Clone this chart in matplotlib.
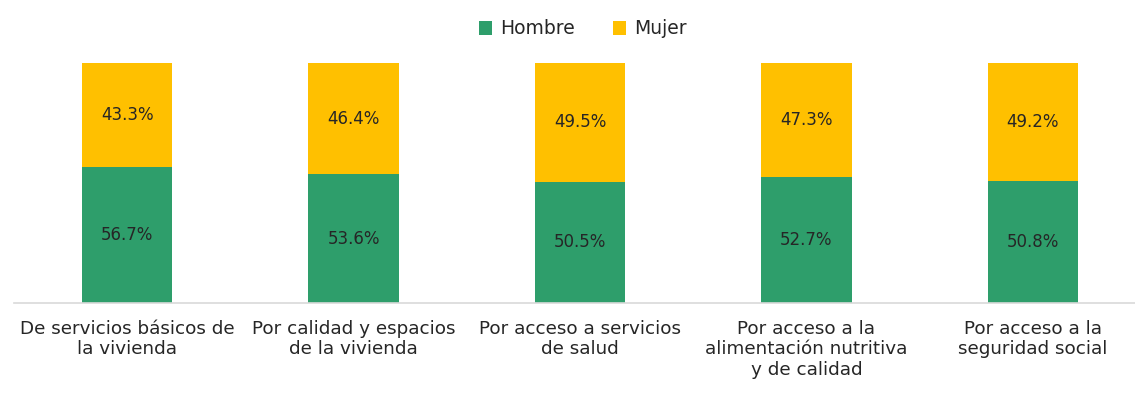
import matplotlib
matplotlib.use("Agg")
import matplotlib.pyplot as plt
import numpy as np

categories = ["De servicios básicos de\nla vivienda",
              "Por calidad y espacios\nde la vivienda",
              "Por acceso a servicios\nde salud",
              "Por acceso a la\nalimentación nutritiva\ny de calidad",
              "Por acceso a la\nseguridad social"]
hombre = [56.7, 53.6, 50.5, 52.7, 50.8]
mujer = [43.3, 46.4, 49.5, 47.3, 49.2]
series_names = ["Hombre", "Mujer"]

green = "#2E9E6B"
yellow = "#FFC000"
plt.rcParams['font.family'] = ['DejaVu Sans']

W, H = 1135, 400
fig = plt.figure(figsize=(W / 100, H / 100), dpi=100)
ax = fig.add_axes([14 / W, 1 - 303 / H, 1132 / W, 240 / H])
x = np.arange(len(categories))
w = 0.40
b1 = ax.bar(x, hombre, w, color=green, label=series_names[0])
b2 = ax.bar(x, mujer, w, bottom=hombre, color=yellow, label=series_names[1])
for i in range(len(x)):
    ax.text(x[i], hombre[i] / 2, f"{hombre[i]:.1f}%", ha="center", va="center",
            fontsize=12, color="#262626")
    ax.text(x[i], hombre[i] + mujer[i] / 2, f"{mujer[i]:.1f}%", ha="center", va="center",
            fontsize=12, color="#262626")
ax.set_xlim(-0.5, 4.5)
ax.set_ylim(0, 100)
ax.set_yticks([])
ax.set_xticks(x)
ax.set_xticklabels(categories, fontsize=13.2, color="#262626", linespacing=1.2)
ax.tick_params(axis="x", length=0, pad=12)
for s in ["top", "right", "left"]:
    ax.spines[s].set_visible(False)
ax.spines["bottom"].set_color("#D9D9D9")
ax.spines["bottom"].set_linewidth(1.2)
fig.legend(handles=[b1, b2], labels=series_names, loc="center", bbox_to_anchor=(583 / W, 1 - 29 / H),
           ncol=2, frameon=False, fontsize=13.5, handlelength=0.7, handleheight=0.7,
           handletextpad=0.45, columnspacing=2.0, labelcolor="#262626")
fig.savefig("out.png", dpi=100)
